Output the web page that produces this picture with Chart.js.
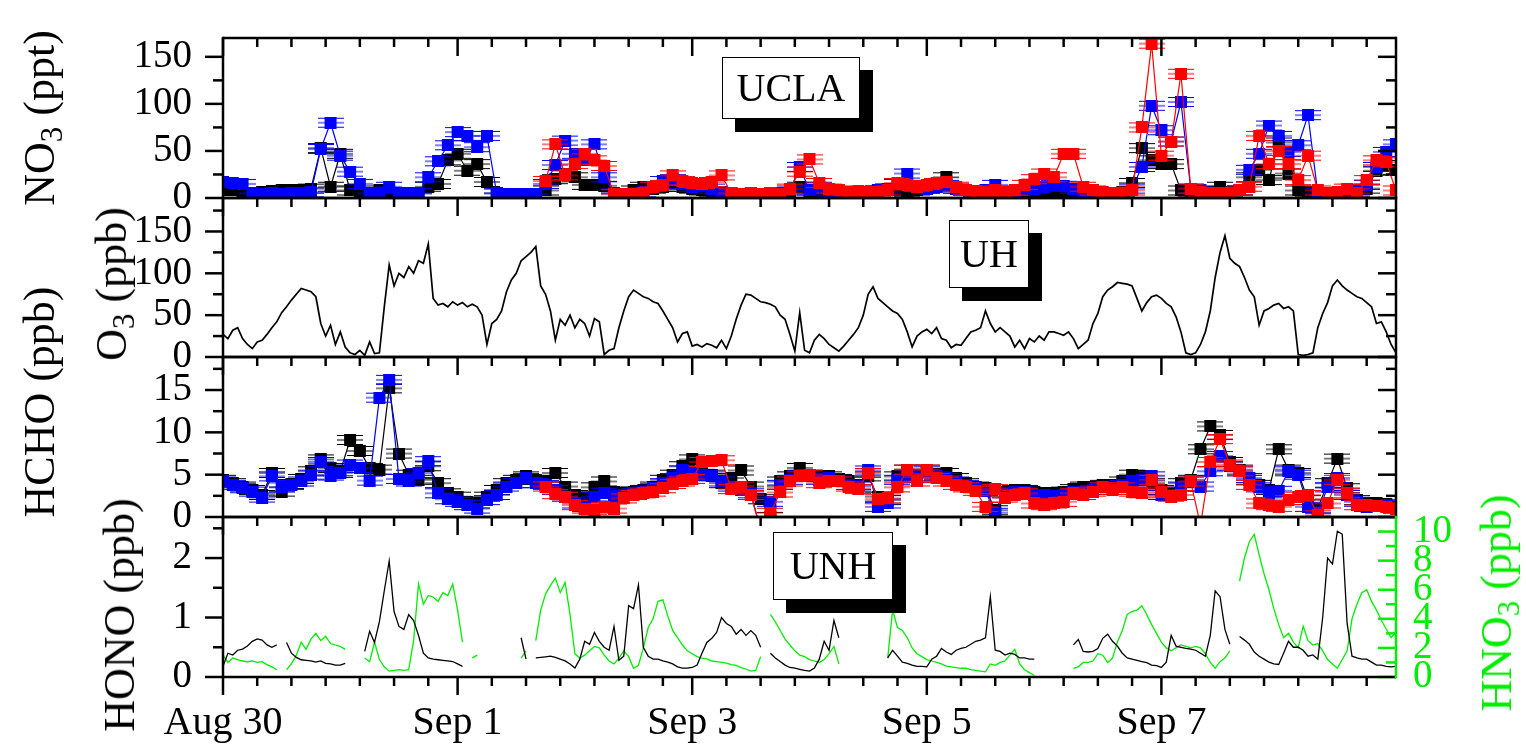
<!DOCTYPE html>
<html><head><meta charset="utf-8">
<script src="https://cdn.jsdelivr.net/npm/chart.js@4.4.0/dist/chart.umd.min.js"></script>
<style>
body{margin:0;background:#fff;width:1526px;height:747px;overflow:hidden;position:relative;font-family:"Liberation Serif","Times New Roman",serif;}
canvas{position:absolute;left:0;top:0;pointer-events:none;}
.ttl{position:absolute;white-space:nowrap;font-size:44px;line-height:1;transform:translate(-50%,-50%) rotate(-90deg);color:#000;}
.ttl sub{font-size:31px;vertical-align:-8px;line-height:0;}
.box{position:absolute;box-sizing:border-box;background:#fff;border:1.5px solid #000;box-shadow:13px 13px 0 #000;font-size:40px;display:flex;align-items:center;justify-content:center;line-height:1;}
</style></head>
<body>
<canvas id="c1" width="1526" height="747"></canvas>
<canvas id="c2" width="1526" height="747"></canvas>
<canvas id="c3" width="1526" height="747"></canvas>
<canvas id="c4" width="1526" height="747"></canvas>
<div class="ttl" style="left:40px;top:118px;">NO<sub>3</sub> (ppt)</div>
<div class="ttl" style="left:112px;top:284px;">O<sub>3</sub> (ppb)</div>
<div class="ttl" style="left:40px;top:402px;">HCHO (ppb)</div>
<div class="ttl" style="left:120px;top:615px;">HONO (ppb)</div>
<div class="ttl" style="left:1497px;top:603px;color:#00ee00;">HNO<sub>3</sub> (ppb)</div>
<div class="box" style="left:722px;top:57px;width:138px;height:62px;">UCLA</div>
<div class="box" style="left:949px;top:220px;width:80px;height:68px;">UH</div>
<div class="box" style="left:773px;top:532px;width:120px;height:68px;">UNH</div>
<script>
// ---------- DATA (time in days since Aug 30 00:00) ----------
const xTickDays = [0, 2, 4, 6, 8];
const xTickLabels = ['Aug 30', 'Sep 1', 'Sep 3', 'Sep 5', 'Sep 7'];

const no3Ticks = [0, 50, 100, 150];
const o3Ticks = [0, 50, 100, 150];
const hchoTicks = [0, 5, 10, 15];
const honoTicks = [0, 1, 2];
const hno3Ticks = [0, 2, 4, 6, 8, 10];

// NO3 (ppt), every 2 h
const no3StepDays = 1/12;
const no3Black = [8,8,5,5,6,7,8,8,8,10,
53,12,47,8,5,5,8,6,5,5,
5,12,15,40,47,29,36,17,5,4,
4,4,4,8,20,25,22,14,14,13,
5,4,8,12,10,12,15,12,10,8,
6,5,5,4,4,4,5,5,5,12,
5,5,5,5,5,6,6,8,10,8,
6,8,10,12,22,10,8,6,5,6,
5,4,5,6,5,6,5,6,5,4,
5,5,6,16,53,40,36,36,8,6,
5,6,12,6,8,22,30,19,59,26,
8,6,5,5,5,5,6,10,29,35,
30];
const no3Blue = [17,16,15,5,4,5,4,5,5,6,
52,80,45,28,15,5,5,12,5,5,
5,22,39,56,70,66,54,66,5,4,
4,4,4,15,35,61,47,40,57,22,
5,4,4,6,12,18,20,15,12,14,
10,6,5,4,5,4,5,5,8,33,
8,12,6,5,5,6,6,8,10,15,
26,12,10,12,14,10,8,6,8,14,
6,5,8,10,12,14,13,10,6,5,
5,5,5,10,33,98,72,60,102,10,
8,5,5,5,8,30,47,77,66,49,
56,88,5,5,5,6,8,14,33,49,
57];
const no3Red = [null,null,null,null,null,null,null,null,null,null,
null,null,null,null,null,null,null,null,null,null,
null,null,null,null,null,null,null,null,null,null,
null,null,null,18,57,24,36,47,40,34,
4,4,4,5,12,14,24,18,16,15,
17,24,5,4,5,4,5,4,10,28,
41,16,10,8,6,7,6,6,8,16,
14,12,14,16,17,12,8,7,6,8,
6,8,14,20,26,22,47,47,12,8,
6,5,5,8,75,164,45,60,132,10,
6,5,5,5,8,12,66,36,50,36,
19,45,8,5,6,10,5,19,40,38,
8];

// O3 (ppb), hourly
const o3StepDays = 1/24;
const o3 = [27,22,32,35,22,15,10,18,20,27,
35,42,53,60,68,75,82,80,78,72,
40,25,38,15,30,12,5,3,8,2,
18,4,5,60,110,85,100,95,108,100,
115,112,135,70,62,64,60,66,62,65,
60,63,60,50,15,40,45,55,78,92,
100,115,120,125,132,85,75,55,20,45,
38,50,35,45,40,25,46,42,3,8,
10,35,55,72,80,76,72,70,66,64,
55,45,35,18,28,30,13,15,12,16,
14,11,20,10,25,45,62,75,74,70,
66,65,63,60,50,45,27,7,53,8,
5,20,27,22,15,11,7,13,20,27,
35,50,75,84,70,65,60,55,52,45,
30,12,25,30,33,28,35,22,20,11,
15,14,22,30,32,35,55,40,30,35,
30,25,12,20,10,22,18,25,20,30,
30,28,26,30,22,10,15,20,40,52,
72,80,84,89,88,87,85,70,55,65,
72,74,70,64,60,48,30,5,3,5,
15,30,55,95,125,145,118,112,108,95,
80,72,38,55,58,62,64,58,60,55,
3,2,3,5,35,52,65,85,92,85,
80,76,72,70,65,60,40,42,30,15,
5];

// HCHO (ppb), every 2 h
const hchoStepDays = 1/12;
const hchoBlack = [4.4,4.0,3.6,3.2,2.6,5.2,3.0,3.9,4.5,5.4,
6.8,5.8,5.4,9.1,7.8,5.8,5.6,15.2,7.5,5.0,
4.4,6.0,4.0,2.8,2.4,1.8,1.6,2.4,3.2,4.0,
4.4,4.8,4.4,4.2,5.2,3.6,2.6,2.2,3.5,4.2,
3.0,2.8,3.0,3.2,3.6,4.4,5.0,6.0,6.8,5.6,
5.0,4.0,4.6,5.5,3.6,2.1,0.0,4.2,4.8,5.8,
5.0,4.8,4.8,4.5,4.2,3.8,4.8,2.4,2.0,4.8,
5.6,4.8,5.6,5.0,5.2,4.6,4.0,3.6,3.4,0.8,
3.0,3.2,3.2,2.9,2.8,2.8,3.0,3.3,3.6,3.6,
3.8,3.8,4.2,5.0,4.8,4.0,3.2,2.8,4.0,4.4,
8.0,10.7,9.7,6.5,5.6,4.4,3.8,3.2,8.0,5.6,
5.2,2.0,1.0,4.0,6.9,3.4,2.0,1.6,1.6,1.5,
1.2];
const hchoBlue = [4.2,3.8,3.4,3.0,2.3,4.8,3.5,3.8,4.2,5.0,
6.5,4.9,5.2,6.2,5.8,4.3,14.1,16.2,4.5,4.2,
5.2,6.6,2.8,2.1,1.8,1.4,1.0,2.0,2.6,3.6,
4.0,4.6,4.0,3.8,3.2,2.4,1.6,1.2,2.4,2.8,
2.4,2.6,2.8,3.0,3.4,4.0,4.6,5.5,5.3,5.0,
4.8,4.2,3.6,3.2,2.8,-1.5,1.8,3.8,4.4,5.0,
4.8,4.4,4.6,4.3,3.8,3.6,5.5,1.2,1.6,4.4,
5.0,4.6,5.4,4.8,4.6,4.2,3.8,3.4,3.1,0.5,
2.8,2.9,3.0,2.6,2.6,2.5,2.6,2.9,3.0,3.2,
3.5,3.4,3.8,4.2,4.4,4.8,2.6,2.6,3.6,4.2,
3.6,5.4,7.2,6.0,5.4,4.6,3.5,2.8,3.1,5.4,
5.0,1.2,0.5,3.5,4.6,2.6,1.8,1.2,1.3,1.4,
1.0];
const hchoRed = [null,null,null,null,null,null,null,null,null,null,
null,null,null,null,null,null,null,null,null,null,
null,null,null,null,null,null,null,null,null,null,
null,null,null,3.6,2.7,2.4,1.4,1.0,0.8,1.2,
1.0,2.2,2.6,2.8,3.0,3.4,3.9,4.2,4.5,6.5,
6.6,6.7,3.3,3.6,2.6,-1.5,0.5,2.9,4.2,4.8,
5.0,4.0,4.3,4.2,3.6,3.3,5.2,2.1,2.2,3.5,
5.6,4.2,5.6,4.6,4.2,3.8,3.5,3.1,1.2,3.3,
2.3,2.6,2.8,1.6,1.4,1.6,1.8,2.8,2.6,3.0,
3.5,3.2,3.5,3.0,2.8,4.4,3.0,2.4,2.6,4.2,
-1,6.5,9.2,6.2,5.4,3.8,1.6,1.4,1.2,2.0,
2.4,2.6,0.2,1.6,4.4,2.8,1.4,1.4,1.3,1.2,
1.0];

// HONO (ppb) and HNO3 (ppb), hourly
const unhStepDays = 1/24;
const hono = [0.18,0.4,0.37,0.45,0.47,0.52,0.6,0.64,0.62,0.54,
0.5,0.54,null,0.58,0.4,0.33,0.29,0.28,0.27,0.25,
0.27,0.23,0.22,0.2,0.2,0.23,null,null,null,0.43,
0.77,0.58,0.93,1.45,1.95,1.1,0.85,0.8,1.05,0.95,
0.7,0.4,0.32,0.3,0.29,0.28,0.27,0.26,0.22,0.18,
null,null,null,null,null,null,null,null,null,null,
null,0.66,0.3,null,0.32,0.33,0.34,0.35,0.33,0.3,
0.27,0.22,0.15,0.3,0.6,0.55,0.75,0.6,0.5,0.45,
0.85,0.28,0.35,1.2,1.15,1.55,0.5,0.35,0.3,0.3,
0.27,0.25,0.22,0.17,0.15,0.15,0.16,0.2,0.4,0.58,
0.65,0.75,1.0,0.9,0.85,0.72,0.8,0.7,0.78,0.7,
0.5,null,0.4,0.32,0.26,0.2,0.16,0.15,0.13,0.11,
0.1,0.15,0.3,0.6,0.45,0.95,0.66,null,null,null,
null,null,null,null,null,null,0.32,0.45,0.35,0.25,
0.23,0.2,0.18,0.18,0.17,0.3,0.35,0.48,0.42,0.38,
0.45,0.48,0.5,0.55,0.6,0.62,0.66,1.35,0.45,0.43,
0.37,0.4,0.38,0.32,0.32,0.3,0.3,null,null,null,
null,null,null,null,0.54,0.63,0.43,0.42,0.43,0.48,
0.65,0.72,0.6,0.52,0.4,0.32,0.3,0.28,0.26,0.24,
0.2,0.19,0.16,0.25,0.7,0.52,0.5,0.48,0.47,0.45,
0.4,0.35,0.7,1.45,1.35,0.8,0.55,null,0.68,0.62,
0.55,0.42,0.35,0.3,0.25,0.22,0.21,0.4,0.6,0.5,
0.5,0.45,0.35,0.37,0.3,1.0,2.0,1.9,2.45,2.4,
0.9,0.35,0.32,0.3,0.3,0.25,0.2,0.2,0.18,0.17,
0.18];
const hno3 = [1.5,1.0,1.3,1.2,1.1,1.05,1.1,1.0,1.05,0.85,
0.7,0.5,null,0.5,0.9,1.5,2.4,1.9,2.6,3.0,
2.5,2.8,2.3,2.2,2.1,1.9,null,null,null,1.3,
1.05,2.4,1.2,0.7,0.4,0.45,0.5,0.45,0.5,2.5,
6.4,5.0,5.6,5.5,5.2,5.8,5.6,6.4,4.6,2.4,
null,1.3,1.5,null,null,null,null,null,null,null,
null,1.3,1.8,null,2.5,4.6,5.7,6.3,6.8,5.8,
6.5,4.3,1.6,1.3,1.5,1.8,2.1,2.0,1.5,1.1,
0.9,1.3,1.8,1.4,0.6,0.8,2.0,3.4,4.0,5.2,
5.3,4.2,3.2,2.7,2.2,1.8,1.6,1.4,1.3,1.25,
1.1,1.05,1.0,0.95,0.85,0.8,0.65,0.55,0.4,0.45,
1.4,null,4.3,3.8,3.2,2.6,2.2,1.8,1.5,1.4,
1.2,1.1,1.0,1.2,1.6,2.1,0.9,null,null,null,
null,null,null,null,null,null,1.3,4.6,3.4,3.2,
2.7,2.0,1.6,1.4,1.2,1.1,1.0,0.9,0.75,0.7,
0.65,0.6,0.6,0.5,0.45,0.4,0.35,0.9,0.8,1.0,
1.1,1.5,1.9,0.9,0.5,0.3,0.1,null,null,null,
null,null,null,null,0.6,0.7,1.0,1.0,1.1,1.6,
1.5,1.0,1.3,2.4,3.2,4.3,4.5,4.6,4.9,4.3,
3.6,3.0,2.4,2.0,1.8,2.0,2.2,2.1,2.0,2.1,
2.0,1.6,1.0,0.6,1.05,1.3,1.8,null,6.6,8.2,
9.3,9.8,8.4,7.1,6.0,4.7,3.6,2.7,3.0,2.4,
2.0,3.5,2.5,2.2,2.3,1.8,1.2,0.9,0.6,1.2,
1.8,4.0,5.0,5.8,6.0,5.2,4.6,3.9,3.3,2.7,
3.1];

// ---------- RENDERING ----------
const FONT = "'Liberation Serif','Times New Roman',serif";
const GREEN = '#00ee00';
const BLUE = '#0000ff';
const RED = '#ff0000';
const MAJ = 18, MIN = 9;
const xMinorDays = [];
xTickDays.forEach(m => { for (let k = 1; k <= 6; k++) { const v = m + k * 7 / 24; if (v < 10) xMinorDays.push(v); } });

function pts(vals, step) { return vals.map((v, i) => ({ x: i * step, y: v })); }
function minorsOf(ticks, max) {
  const out = []; const d = ticks[1] - ticks[0];
  for (let v = d / 2; v < max; v += d) { if (!ticks.includes(v)) out.push(v); }
  return out;
}
function marker(color) {
  const c = document.createElement('canvas'); c.width = 26; c.height = 12;
  const g = c.getContext('2d'); g.fillStyle = color;
  g.fillRect(7, 0, 12, 12);
  g.fillRect(0, 1, 26, 1); g.fillRect(0, 5.5, 26, 1); g.fillRect(0, 10, 26, 1);
  return c;
}
function markerSeries(vals, step, color) {
  return { data: pts(vals, step), borderColor: color, backgroundColor: color, borderWidth: 1.2,
    pointStyle: marker(color), pointRadius: 6, spanGaps: false, tension: 0 };
}
function lineSeries(vals, step, color, w) {
  return { data: pts(vals, step), borderColor: color, borderWidth: w, pointRadius: 0, spanGaps: false, tension: 0 };
}
function noPad(s) { s.paddingTop = 0; s.paddingBottom = 0; s.paddingLeft = 0; s.paddingRight = 0; }

function makeFrame(cfg) {
  return { id: 'frame', afterDraw(chart) {
    const c = chart.ctx, a = chart.chartArea, xs = chart.scales.x, ys = chart.scales.y;
    c.save(); c.lineWidth = 2.5; c.lineCap = 'butt';
    const seg = (x1, y1, x2, y2, col) => { c.strokeStyle = col || '#000'; c.beginPath(); c.moveTo(x1, y1); c.lineTo(x2, y2); c.stroke(); };
    const xt = (edge) => {
      xTickDays.forEach(v => { const p = xs.getPixelForValue(v); seg(p, edge, p, edge + MAJ); });
      xMinorDays.forEach(v => { const p = xs.getPixelForValue(v); seg(p, edge, p, edge + MIN); });
    };
    xt(a.top); if (cfg.bottom) xt(a.bottom);
    const ymaj = cfg.yTicks, ymin = minorsOf(cfg.yTicks, ys.max);
    ymaj.forEach(v => { const p = ys.getPixelForValue(v); seg(a.left - MAJ, p, a.left, p); if (!cfg.right) seg(a.right - MAJ, p, a.right, p); });
    ymin.forEach(v => { const p = ys.getPixelForValue(v); seg(a.left - MIN - 1, p, a.left, p); if (!cfg.right) seg(a.right - MIN - 1, p, a.right, p); });
    if (cfg.right) {
      const y2 = chart.scales.y2;
      cfg.right.forEach(v => { const p = y2.getPixelForValue(v); seg(a.right - MAJ, p, a.right, p, GREEN); });
      minorsOf(cfg.right, y2.max).forEach(v => { const p = y2.getPixelForValue(v); seg(a.right - MIN - 1, p, a.right, p, GREEN); });
    }
    seg(a.left, a.top, a.right, a.top); seg(a.left, a.bottom, a.right, a.bottom);
    seg(a.left, a.top - 1.25, a.left, a.bottom + 1.25);
    seg(a.right, a.top - 1.25, a.right, a.bottom + 1.25, cfg.right ? GREEN : '#000');
    c.restore();
  } };
}

function yAxis(max, ticks) {
  return { type: 'linear', position: 'left', min: 0, max: max,
    afterFit(s) { s.width = 223; noPad(s); },
    afterBuildTicks(s) { s.ticks = ticks.map(v => ({ value: v })); },
    grid: { display: true, drawOnChartArea: false, drawTicks: false },
    border: { display: false },
    ticks: { font: { family: FONT, size: 39 }, color: '#000', padding: 31, autoSkip: false, callback: v => String(v) } };
}
function xAxis(show) {
  return { type: 'linear', position: 'bottom', min: 0, max: 10, display: show,
    afterFit(s) { s.height = show ? 70 : 0; noPad(s); },
    afterBuildTicks(s) { s.ticks = xTickDays.map(v => ({ value: v })); },
    grid: { display: true, drawOnChartArea: false, drawTicks: false },
    border: { display: false },
    ticks: { font: { family: FONT, size: 40 }, color: '#000', padding: 22, autoSkip: false, maxRotation: 0,
      callback: (v, i) => xTickLabels[i] } };
}

function panel(id, top, bottom, datasets, yMax, yTicks, extra) {
  extra = extra || {};
  const scales = { x: xAxis(!!extra.bottom), y: yAxis(yMax, yTicks) };
  if (extra.right) {
    scales.y2 = { type: 'linear', position: 'right', min: 0, max: extra.rightMax,
      afterFit(s) { s.width = 130; noPad(s); },
      afterBuildTicks(s) { s.ticks = extra.right.map(v => ({ value: v })); },
      grid: { display: true, drawOnChartArea: false, drawTicks: false },
      border: { display: false },
      ticks: { font: { family: FONT, size: 39 }, color: GREEN, padding: 17, autoSkip: false, callback: v => String(v) } };
  }
  new Chart(document.getElementById(id), {
    type: 'line',
    data: { datasets },
    options: {
      responsive: false, animation: false, devicePixelRatio: 1, parsing: true,
      layout: { padding: { left: 0, right: extra.right ? 0 : 130, top: top, bottom: extra.bottom ? 0 : 747 - bottom } },
      plugins: { legend: { display: false }, tooltip: { enabled: false } },
      scales
    },
    plugins: [makeFrame({ yTicks, bottom: extra.bottom, right: extra.right })]
  });
}

panel('c1', 38, 198, [
  markerSeries(no3Red, no3StepDays, RED),
  markerSeries(no3Blue, no3StepDays, BLUE),
  markerSeries(no3Black, no3StepDays, '#000')
], 170, no3Ticks);

panel('c2', 198, 357, [ lineSeries(o3, o3StepDays, '#000', 1.7) ], 190, o3Ticks);

panel('c3', 357, 517, [
  markerSeries(hchoRed, hchoStepDays, RED),
  markerSeries(hchoBlue, hchoStepDays, BLUE),
  markerSeries(hchoBlack, hchoStepDays, '#000')
], 18.9, hchoTicks);

const c4sets = [ lineSeries(hono, unhStepDays, '#000', 1.3) ];
const g = lineSeries(hno3, unhStepDays, GREEN, 1.3); g.yAxisID = 'y2'; c4sets.push(g);
panel('c4', 517, 677, c4sets, 2.69, honoTicks, { bottom: true, right: hno3Ticks, rightMax: 11 });
</script>
</body></html>
